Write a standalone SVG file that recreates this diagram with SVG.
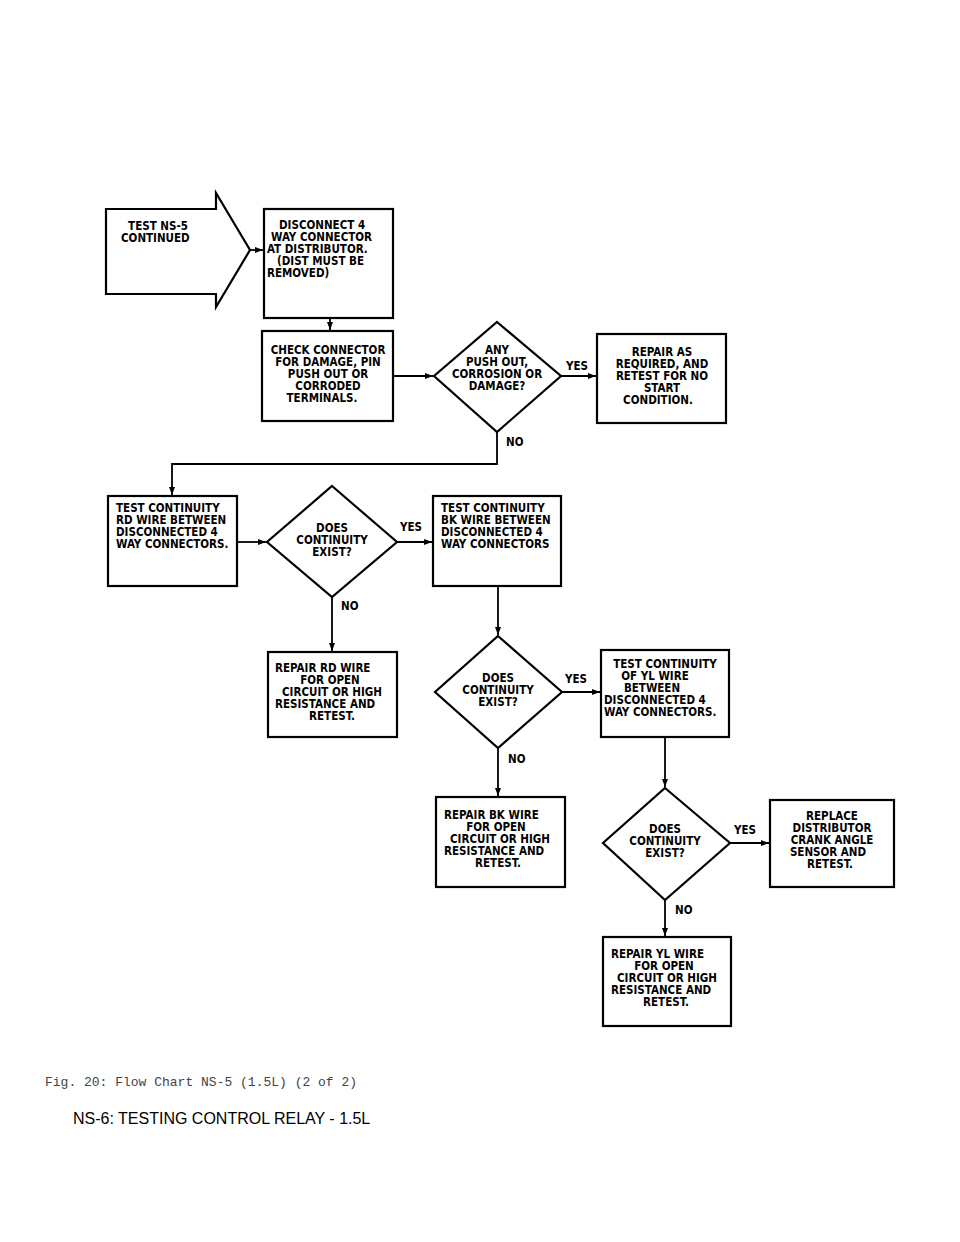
<svg xmlns="http://www.w3.org/2000/svg" width="960" height="1242" viewBox="0 0 960 1242">
<style>
.s{fill:#fff;stroke:#000;stroke-width:2.2}
.t{font-family:"DejaVu Sans Condensed","Liberation Sans",sans-serif;font-weight:bold;font-size:11.5px;fill:#000;text-anchor:middle}
.l{font-family:"DejaVu Sans Condensed","Liberation Sans",sans-serif;font-weight:bold;font-size:11.5px;fill:#000}
.c{fill:none;stroke:#000;stroke-width:1.8}
</style>
<defs><marker id="a" markerWidth="8" markerHeight="6" refX="8" refY="3" orient="auto" markerUnits="userSpaceOnUse"><path d="M0,0 L8,3 L0,6z" fill="#000"/></marker></defs>
<rect width="960" height="1242" fill="#fff"/>
<g id="connectors">
<path class="c" d="M250,250 H263" marker-end="url(#a)"/>
<path class="c" d="M330,318 V330" marker-end="url(#a)"/>
<path class="c" d="M393,376 H433" marker-end="url(#a)"/>
<path class="c" d="M561,376 H596" marker-end="url(#a)"/>
<path class="c" d="M497,432 V464 H172 V495" marker-end="url(#a)"/>
<path class="c" d="M237,542 H266" marker-end="url(#a)"/>
<path class="c" d="M397,542 H432" marker-end="url(#a)"/>
<path class="c" d="M332,597 V651" marker-end="url(#a)"/>
<path class="c" d="M498,586 V635" marker-end="url(#a)"/>
<path class="c" d="M562,692 H600" marker-end="url(#a)"/>
<path class="c" d="M498,748 V796" marker-end="url(#a)"/>
<path class="c" d="M665,737 V787" marker-end="url(#a)"/>
<path class="c" d="M730,843 H769" marker-end="url(#a)"/>
<path class="c" d="M665,900 V936" marker-end="url(#a)"/>
<text class="l" x="566" y="370">YES</text>
<text class="l" x="506" y="446">NO</text>
<text class="l" x="400" y="531">YES</text>
<text class="l" x="341" y="610">NO</text>
<text class="l" x="565" y="683">YES</text>
<text class="l" x="508" y="763">NO</text>
<text class="l" x="734" y="834">YES</text>
<text class="l" x="675" y="914">NO</text>
</g>
<g id="start"><path class="s" d="M106,209 H216 V193 L250,250 L216,307 V294 H106 Z"/>
<text class="t" x="158" y="230">TEST NS-5</text><text class="l" x="121" y="242">CONTINUED</text></g>
<g id="n1"><rect class="s" x="264" y="209" width="129" height="109"/>
<text class="l" x="279" y="229">DISCONNECT 4</text><text class="l" x="271" y="241">WAY CONNECTOR</text><text class="l" x="267" y="253">AT DISTRIBUTOR.</text><text class="l" x="277" y="265">(DIST MUST BE</text><text class="l" x="267" y="277">REMOVED)</text></g>
<g id="n2"><rect class="s" x="262" y="331" width="131" height="90"/>
<text class="t" x="328" y="354">CHECK CONNECTOR</text><text class="t" x="328" y="366">FOR DAMAGE, PIN</text><text class="t" x="328" y="378">PUSH OUT OR</text><text class="t" x="328" y="390">CORRODED</text><text class="t" x="322" y="402">TERMINALS.</text></g>
<g id="d1"><path class="s" d="M497,322 L561,376 L497,432 L434,376 Z"/>
<text class="t" x="497" y="354">ANY</text><text class="t" x="497" y="366">PUSH OUT,</text><text class="t" x="497" y="378">CORROSION OR</text><text class="t" x="497" y="390">DAMAGE?</text></g>
<g id="n3"><rect class="s" x="597" y="334" width="129" height="89"/>
<text class="t" x="662" y="356">REPAIR AS</text><text class="t" x="662" y="368">REQUIRED, AND</text><text class="t" x="662" y="380">RETEST FOR NO</text><text class="t" x="662" y="392">START</text><text class="t" x="658" y="404">CONDITION.</text></g>
<g id="n4"><rect class="s" x="108" y="496" width="129" height="90"/>
<text class="l" x="116" y="512">TEST CONTINUITY</text><text class="l" x="116" y="524">RD WIRE BETWEEN</text><text class="l" x="116" y="536">DISCONNECTED 4</text><text class="l" x="116" y="548">WAY CONNECTORS.</text></g>
<g id="d2"><path class="s" d="M332,486 L397,542 L332,597 L267,542 Z"/>
<text class="t" x="332" y="532">DOES</text><text class="t" x="332" y="544">CONTINUITY</text><text class="t" x="332" y="556">EXIST?</text></g>
<g id="n5"><rect class="s" x="433" y="496" width="128" height="90"/>
<text class="l" x="441" y="512">TEST CONTINUITY</text><text class="l" x="441" y="524">BK WIRE BETWEEN</text><text class="l" x="441" y="536">DISCONNECTED 4</text><text class="l" x="441" y="548">WAY CONNECTORS</text></g>
<g id="n6"><rect class="s" x="268" y="652" width="129" height="85"/>
<text class="l" x="275" y="672">REPAIR RD WIRE</text><text class="t" x="330" y="684">FOR OPEN</text><text class="t" x="332" y="696">CIRCUIT OR HIGH</text><text class="l" x="275" y="708">RESISTANCE AND</text><text class="t" x="332" y="720">RETEST.</text></g>
<g id="d3"><path class="s" d="M498,636 L562,692 L498,748 L435,692 Z"/>
<text class="t" x="498" y="682">DOES</text><text class="t" x="498" y="694">CONTINUITY</text><text class="t" x="498" y="706">EXIST?</text></g>
<g id="n7"><rect class="s" x="601" y="650" width="128" height="87"/>
<text class="t" x="665" y="668">TEST CONTINUITY</text><text class="t" x="655" y="680">OF YL WIRE</text><text class="t" x="652" y="692">BETWEEN</text><text class="l" x="604" y="704">DISCONNECTED 4</text><text class="l" x="604" y="716">WAY CONNECTORS.</text></g>
<g id="n8"><rect class="s" x="436" y="797" width="129" height="90"/>
<text class="l" x="444" y="819">REPAIR BK WIRE</text><text class="t" x="496" y="831">FOR OPEN</text><text class="t" x="500" y="843">CIRCUIT OR HIGH</text><text class="l" x="444" y="855">RESISTANCE AND</text><text class="t" x="498" y="867">RETEST.</text></g>
<g id="d4"><path class="s" d="M665,788 L730,843 L665,900 L603,843 Z"/>
<text class="t" x="665" y="833">DOES</text><text class="t" x="665" y="845">CONTINUITY</text><text class="t" x="665" y="857">EXIST?</text></g>
<g id="n9"><rect class="s" x="770" y="800" width="124" height="87"/>
<text class="t" x="832" y="820">REPLACE</text><text class="t" x="832" y="832">DISTRIBUTOR</text><text class="t" x="832" y="844">CRANK ANGLE</text><text class="t" x="828" y="856">SENSOR AND</text><text class="t" x="830" y="868">RETEST.</text></g>
<g id="n10"><rect class="s" x="603" y="937" width="128" height="89"/>
<text class="l" x="611" y="958">REPAIR YL WIRE</text><text class="t" x="664" y="970">FOR OPEN</text><text class="t" x="667" y="982">CIRCUIT OR HIGH</text><text class="l" x="611" y="994">RESISTANCE AND</text><text class="t" x="666" y="1006">RETEST.</text></g>
<text x="45" y="1086" font-family="Liberation Mono,monospace" font-size="13" fill="#444">Fig. 20:  Flow Chart NS-5 (1.5L) (2 of 2)</text>
<text x="73" y="1124" font-family="Liberation Sans,Arial,sans-serif" font-size="16" fill="#000">NS-6: TESTING CONTROL RELAY - 1.5L</text>
</svg>
